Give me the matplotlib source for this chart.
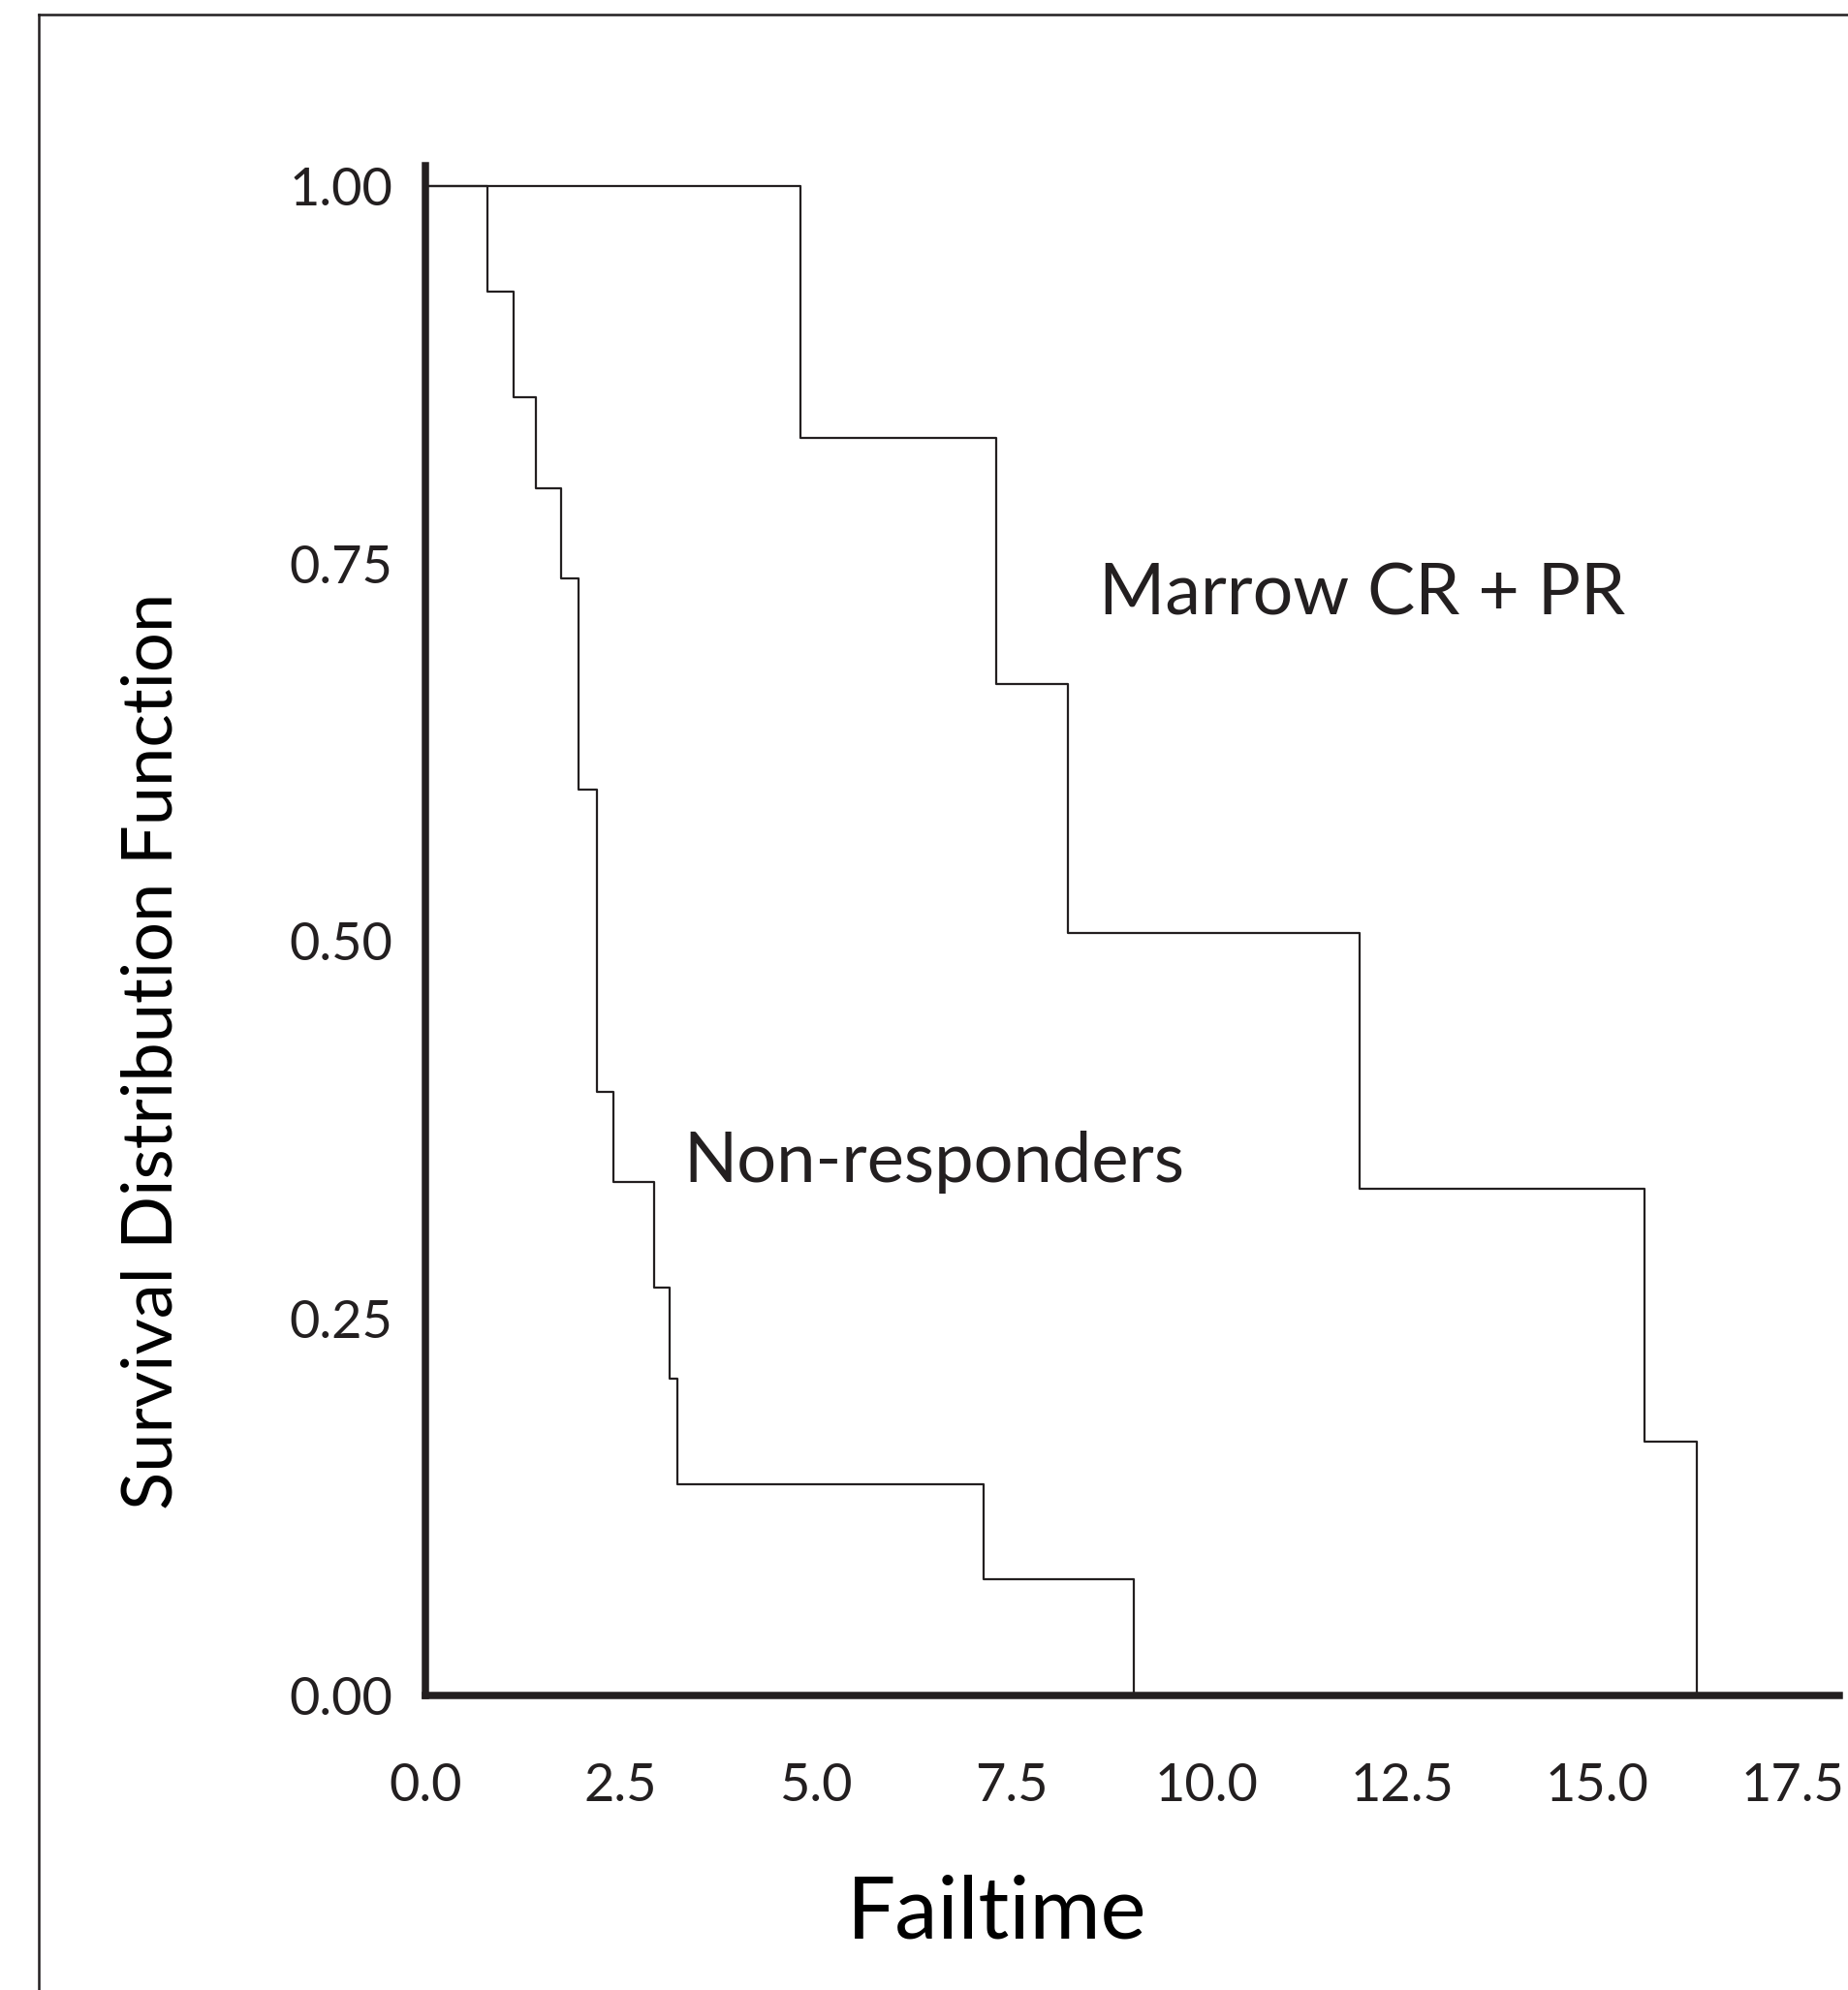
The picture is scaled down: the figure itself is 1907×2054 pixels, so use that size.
import matplotlib
matplotlib.use('Agg')
import matplotlib.pyplot as plt
from matplotlib.lines import Line2D

# Kaplan-Meier steps (time, survival after the drop)
marrow_times = [0, 4.80, 7.31, 8.22, 11.96, 15.61, 16.27]
marrow_surv = [1.0, 0.833, 0.670, 0.505, 0.336, 0.168, 0.0]

nonresp_times = [0, 0.79, 1.13, 1.41, 1.74, 1.96, 2.20, 2.41, 2.93, 3.12, 3.22, 7.14, 9.07]
nonresp_surv = [1.0, 0.93, 0.86, 0.80, 0.74, 0.60, 0.40, 0.34, 0.27, 0.21, 0.14, 0.077, 0.0]

x_ticks = [0.0, 2.5, 5.0, 7.5, 10.0, 12.5, 15.0, 17.5]
y_ticks = [0.00, 0.25, 0.50, 0.75, 1.00]

ink = '#231f20'

plt.rcParams['font.family'] = ['Lato', 'DejaVu Sans']
plt.rcParams['text.color'] = ink

fig = plt.figure(figsize=(19.08, 20.54), dpi=100)
ax = fig.add_axes([0.2301, 0.1480, 0.7647, 0.7689])

ax.step(marrow_times, marrow_surv, where='post', color=ink, lw=1.6)
ax.step(nonresp_times, nonresp_surv, where='post', color=ink, lw=1.6)

ax.set_xlim(0, 18.1)
ax.set_ylim(0, 1.0137)

for side in ['top', 'right']:
    ax.spines[side].set_visible(False)
for side in ['left', 'bottom']:
    ax.spines[side].set_linewidth(5.4)
    ax.spines[side].set_color(ink)
    ax.spines[side].set_capstyle('projecting')

ax.set_xticks(x_ticks, [f'{v:.1f}' for v in x_ticks])
ax.set_yticks(y_ticks, [f'{v:.2f}' for v in y_ticks])
ax.tick_params(axis='both', length=0, labelsize=39, colors=ink)
ax.tick_params(axis='y', pad=24)
ax.tick_params(axis='x', pad=50)

ax.set_xlabel('Failtime', fontsize=64)
ax.xaxis.set_label_coords(0.404, -0.1425)
ax.xaxis.label.set_va('center')
ax.set_ylabel('Survival Distribution Function', fontsize=52)
ax.yaxis.set_label_coords(-0.193, 0.421)
ax.yaxis.label.set_va('center')

ax.text(8.62, 0.716, 'Marrow CR + PR', fontsize=53, color=ink)
ax.text(3.31, 0.340, 'Non-responders', fontsize=52, color=ink)

# frame of the original figure panel, cut off on the right and bottom
fx, fy = 40 / 1908, 1 - 15 / 2054
fig.add_artist(Line2D([fx, 1.0], [fy, fy], transform=fig.transFigure, color=ink, lw=1.8))
fig.add_artist(Line2D([fx, fx], [fy, 0.0], transform=fig.transFigure, color=ink, lw=1.8))

fig.savefig('out.png', dpi=100)
